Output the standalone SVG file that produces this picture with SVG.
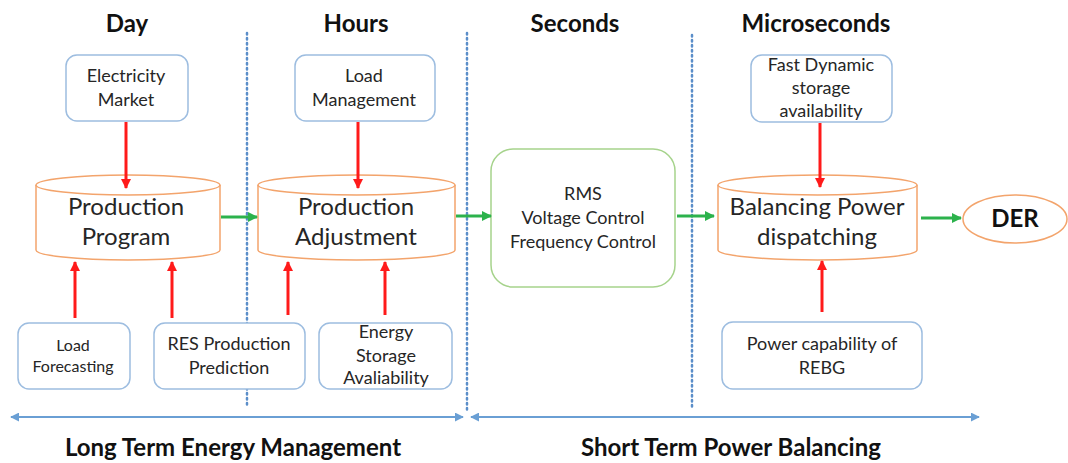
<svg xmlns="http://www.w3.org/2000/svg" width="1068" height="463" viewBox="0 0 1068 463">
<defs>
<marker id="ar" viewBox="0 0 10 10" refX="9" refY="5" markerWidth="10" markerHeight="10" markerUnits="userSpaceOnUse" orient="auto"><path d="M0,0 L10,5 L0,10 z" fill="#ff1a1a"/></marker>
<marker id="ag" viewBox="0 0 10 10" refX="9" refY="5" markerWidth="10" markerHeight="10" markerUnits="userSpaceOnUse" orient="auto"><path d="M0,0 L10,5 L0,10 z" fill="#2cb24c"/></marker>
<marker id="ab" viewBox="0 0 10 10" refX="9" refY="5" markerWidth="9" markerHeight="9" markerUnits="userSpaceOnUse" orient="auto-start-reverse"><path d="M0,0 L10,5 L0,10 z" fill="#6a9fd4"/></marker>
</defs>
<style>
text{font-family:Lato,"Liberation Sans",sans-serif;fill:#262626;text-anchor:middle}
.h{font-size:24px;font-weight:bold;fill:#111}
.b{font-size:18px}
.s{font-size:16px}
.c{font-size:24px}
.box{fill:#fff;stroke:#9dbde0;stroke-width:1.5}
.cyl{fill:#fff;stroke:#f3a46c;stroke-width:1.5}
.red{stroke:#ff1a1a;stroke-width:3;marker-end:url(#ar)}
.grn{stroke:#2cb24c;stroke-width:3;marker-end:url(#ag)}
.dot{stroke:#5b8ec9;stroke-width:2.5;stroke-dasharray:1.5 3.5;stroke-linecap:round}
.blu{stroke:#6a9fd4;stroke-width:2;marker-start:url(#ab);marker-end:url(#ab)}
</style>
<rect width="1068" height="463" fill="#fff"/>
<g id="headers">
<text class="h" x="127" y="32">Day</text>
<text class="h" x="356" y="32">Hours</text>
<text class="h" x="575" y="32">Seconds</text>
<text class="h" x="816" y="32">Microseconds</text>
<text class="h" x="233" y="456">Long Term Energy Management</text>
<text class="h" x="731" y="456">Short Term Power Balancing</text>
</g>
<g id="dividers">
<line class="dot" x1="247" y1="33" x2="247" y2="405"/>
<line class="dot" x1="467" y1="33" x2="467" y2="410"/>
<line class="dot" x1="692" y1="35" x2="692" y2="410"/>
</g>
<g id="electricity-market">
<rect class="box" x="66" y="55" width="122" height="66" rx="11"/>
<text class="b" x="126" y="82">Electricity</text>
<text class="b" x="126" y="106">Market</text>
</g>
<g id="load-management">
<rect class="box" x="295" y="55" width="140" height="66" rx="11"/>
<text class="b" x="364" y="82">Load</text>
<text class="b" x="364" y="106">Management</text>
</g>
<g id="fast-dynamic">
<rect class="box" x="751" y="55" width="141" height="67" rx="11"/>
<text class="b" x="821" y="71">Fast Dynamic</text>
<text class="b" x="821" y="94">storage</text>
<text class="b" x="821" y="117">availability</text>
</g>
<g id="production-program">
<path class="cyl" d="M36,185 L36,250 A92,10 0 0 0 220,250 L220,185"/>
<ellipse class="cyl" cx="128" cy="185" rx="92" ry="10"/>
<text class="c" x="126" y="215">Production</text>
<text class="c" x="126" y="245">Program</text>
</g>
<g id="production-adjustment">
<path class="cyl" d="M258,185 L258,250 A98.5,10 0 0 0 455,250 L455,185"/>
<ellipse class="cyl" cx="356.5" cy="185" rx="98.5" ry="10"/>
<text class="c" x="356" y="215">Production</text>
<text class="c" x="356" y="245">Adjustment</text>
</g>
<g id="rms">
<rect x="491" y="149" width="184" height="138" rx="22" fill="#fff" stroke="#a6d38c" stroke-width="1.5"/>
<text class="b" x="583" y="200">RMS</text>
<text class="b" x="583" y="224">Voltage Control</text>
<text class="b" x="583" y="248">Frequency Control</text>
</g>
<g id="balancing-power">
<path class="cyl" d="M718,185 L718,250 A99.5,10 0 0 0 917,250 L917,185"/>
<ellipse class="cyl" cx="817.5" cy="185" rx="99.5" ry="10"/>
<text class="c" x="817" y="215">Balancing Power</text>
<text class="c" x="817" y="245">dispatching</text>
</g>
<g id="der">
<ellipse class="cyl" cx="1015" cy="219" rx="52" ry="24"/>
<text class="h" x="1015" y="227">DER</text>
</g>
<g id="load-forecasting">
<rect class="box" x="18" y="323" width="112" height="66" rx="11"/>
<text class="s" x="73" y="351">Load</text>
<text class="s" x="73" y="372">Forecasting</text>
</g>
<g id="res-production">
<rect class="box" x="154" y="323" width="151" height="66" rx="11"/>
<text class="b" x="229" y="350">RES Production</text>
<text class="b" x="229" y="374">Prediction</text>
</g>
<g id="energy-storage">
<rect class="box" x="319" y="323" width="133" height="66" rx="11"/>
<text class="b" x="386" y="338">Energy</text>
<text class="b" x="386" y="362">Storage</text>
<text class="b" x="386" y="384">Avaliability</text>
</g>
<g id="power-capability">
<rect class="box" x="722" y="322" width="200" height="67" rx="11"/>
<text class="b" x="822" y="350">Power capability of</text>
<text class="b" x="822" y="374">REBG</text>
</g>
<g id="connectors">
<line class="red" x1="126" y1="122" x2="126" y2="188"/>
<line class="red" x1="358" y1="122" x2="358" y2="188"/>
<line class="red" x1="820" y1="123" x2="820" y2="187"/>
<line class="red" x1="75" y1="318" x2="75" y2="262"/>
<line class="red" x1="172" y1="318" x2="172" y2="262"/>
<line class="red" x1="288" y1="315" x2="288" y2="262"/>
<line class="red" x1="385" y1="315" x2="385" y2="262"/>
<line class="red" x1="822" y1="312" x2="822" y2="261"/>
<line class="grn" x1="221" y1="217" x2="257" y2="217"/>
<line class="grn" x1="456" y1="216" x2="491" y2="216"/>
<line class="grn" x1="677" y1="216" x2="714" y2="216"/>
<line class="grn" x1="921" y1="218" x2="961" y2="218"/>
<line class="blu" x1="11" y1="417" x2="463" y2="417"/>
<line class="blu" x1="471" y1="417" x2="979" y2="417"/>
</g>
</svg>
